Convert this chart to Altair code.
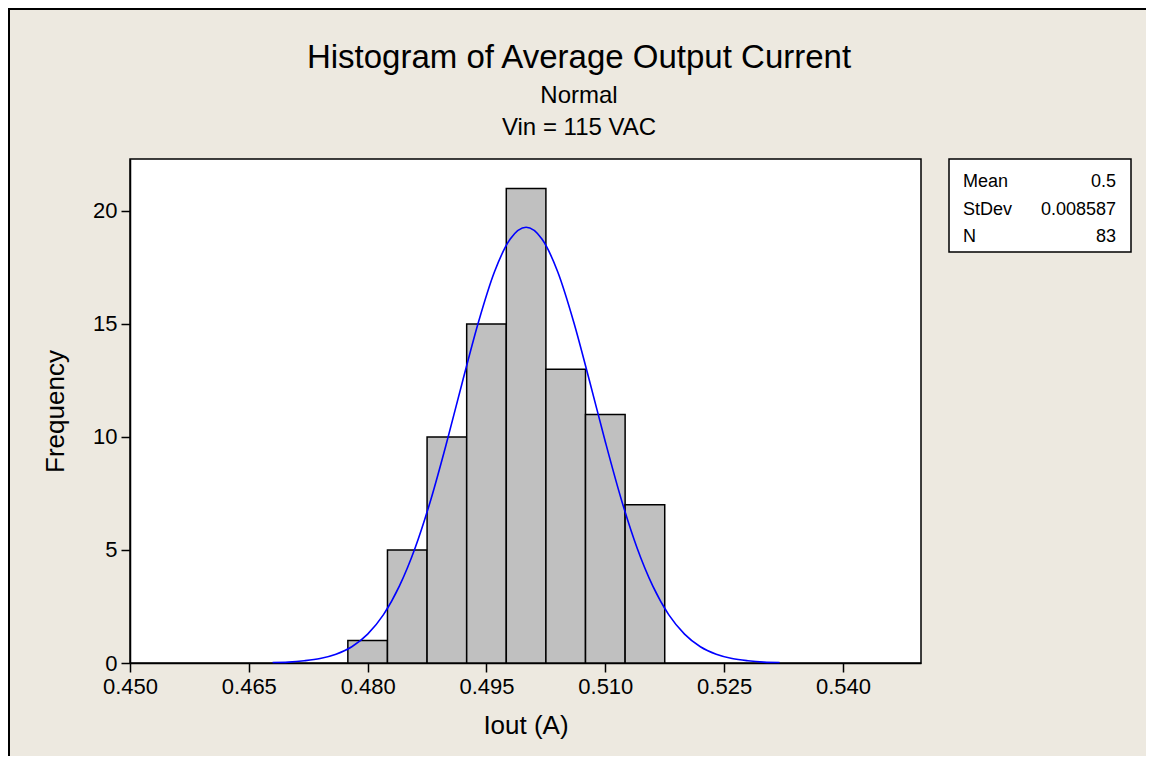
import altair as alt
import pandas as pd

# ---- data ----
bin_starts = [0.4775, 0.4825, 0.4875, 0.4925, 0.4975, 0.5025, 0.5075, 0.5125]
bin_ends = [0.4825, 0.4875, 0.4925, 0.4975, 0.5025, 0.5075, 0.5125, 0.5175]
counts = [1, 5, 10, 15, 21, 13, 11, 7]

curve_x = [0.468, 0.470, 0.472, 0.474, 0.476, 0.478, 0.480, 0.482, 0.484,
           0.486, 0.488, 0.490, 0.492, 0.494, 0.496, 0.498, 0.500, 0.502,
           0.504, 0.506, 0.508, 0.510, 0.512, 0.514, 0.516, 0.518, 0.520,
           0.522, 0.524, 0.526, 0.528, 0.530, 0.532]
curve_y = [0.02, 0.04, 0.10, 0.20, 0.39, 0.72, 1.28, 2.14, 3.40,
           5.10, 7.26, 9.79, 12.49, 15.10, 17.30, 18.76, 19.28, 18.76,
           17.30, 15.10, 12.49, 9.79, 7.26, 5.10, 3.40, 2.14, 1.28,
           0.72, 0.39, 0.20, 0.10, 0.04, 0.02]

x_ticks = [0.450, 0.465, 0.480, 0.495, 0.510, 0.525, 0.540]
y_ticks = [0, 5, 10, 15, 20]

stat_labels = ["Mean", "StDev", "N"]
stat_values = ["0.5", "0.008587", "83"]

title_text = "Histogram of Average Output Current"
subtitle_lines = ["Normal", "Vin = 115 VAC"]
x_title = "Iout (A)"
y_title = "Frequency"

FONT = "Liberation Sans, Arial, sans-serif"

df_bins = pd.DataFrame({"start": bin_starts, "end": bin_ends, "count": counts})
df_curve = pd.DataFrame({"x": curve_x, "y": curve_y})
one = pd.DataFrame({"k": [0]})

xs = alt.Scale(domain=[0.450, 0.54985], nice=False, zero=False)
ys = alt.Scale(domain=[0, 22.3], nice=False)

bars = alt.Chart(df_bins).mark_rect(
    fill="#C0C0C0", stroke="black", strokeWidth=1.5
).encode(
    x=alt.X("start:Q", scale=xs,
            axis=alt.Axis(values=x_ticks, format=".3f", title=x_title,
                          labelPadding=4, titlePadding=15, labelFlush=False)),
    x2="end:Q",
    y=alt.Y("count:Q", scale=ys,
            axis=alt.Axis(values=y_ticks, title=y_title,
                          labelPadding=4, titlePadding=24, labelFlush=False)),
    y2=alt.datum(0),
)

curve = alt.Chart(df_curve).mark_line(
    color="#0000FF", strokeWidth=1.6, interpolate="monotone"
).encode(x=alt.X("x:Q", scale=xs), y=alt.Y("y:Q", scale=ys))

box = alt.Chart(one).mark_rect(
    fill="white", stroke="black", strokeWidth=1.5
).encode(x=alt.value(819), x2=alt.value(1001), y=alt.value(0), y2=alt.value(93))

texts = []
for i, (lab, val) in enumerate(zip(stat_labels, stat_values)):
    yy = 28 + 27.5 * i
    texts.append(alt.Chart(one).mark_text(
        align="left", baseline="alphabetic", fontSize=18, font=FONT, color="black"
    ).encode(x=alt.value(833), y=alt.value(yy), text=alt.value(lab)))
    texts.append(alt.Chart(one).mark_text(
        align="right", baseline="alphabetic", fontSize=18, font=FONT, color="black"
    ).encode(x=alt.value(986), y=alt.value(yy), text=alt.value(val)))

# title lines (centered over the whole figure)
title_lines = [title_text] + subtitle_lines
title_sizes = [33, 24, 24]
title_base = [-91, -56, -24]
for txt, fs, yb in zip(title_lines, title_sizes, title_base):
    texts.append(alt.Chart(one).mark_text(
        align="center", baseline="alphabetic", fontSize=fs, font=FONT, color="black"
    ).encode(x=alt.value(449), y=alt.value(yb), text=alt.value(txt)))

border_left = alt.Chart(one).mark_rule(color="black", strokeWidth=2).encode(
    x=alt.value(-121), y=alt.value(-151), y2=alt.value(597))
border_top = alt.Chart(one).mark_rule(color="black", strokeWidth=2).encode(
    x=alt.value(-122), x2=alt.value(1016), y=alt.value(-150))

chart = alt.layer(bars, curve, box, *texts, border_left, border_top).properties(
    width=791,
    height=504,
    autosize=alt.AutoSizeParams(type="none"),
    padding={"left": 122, "top": 151, "right": 225, "bottom": 93},
).configure(
    background="#EDE9E0",
).configure_view(
    fill="white", stroke="black", strokeWidth=1.5
).configure_axis(
    domainColor="black", domainWidth=1.5, tickColor="black", tickWidth=1.5,
    tickSize=9, labelColor="black", labelFontSize=22, labelFont=FONT,
    titleFont=FONT, titleFontSize=26, titleFontWeight="normal", titleColor="black",
    grid=False,
)

chart.save("out.html", embed_options={"renderer": "svg", "actions": False})
